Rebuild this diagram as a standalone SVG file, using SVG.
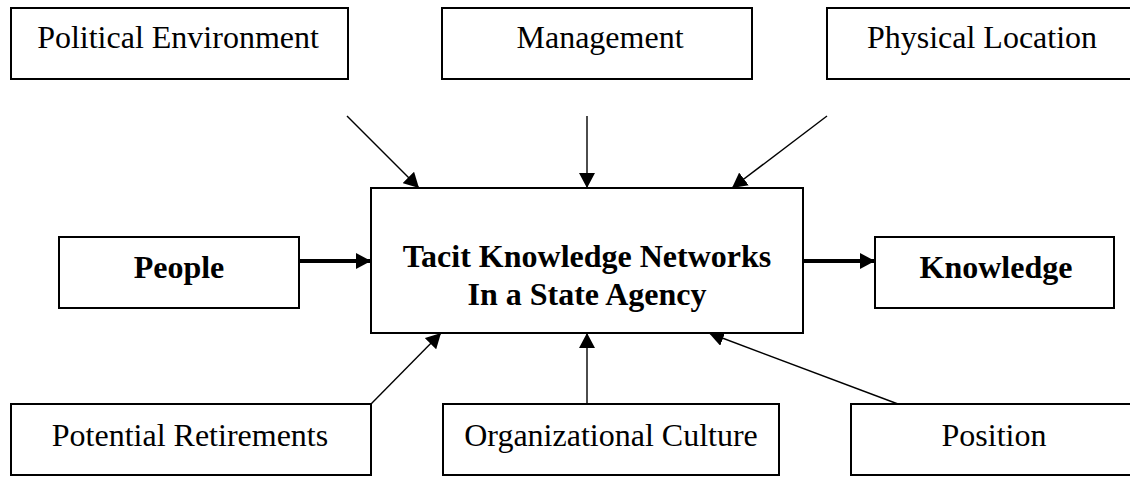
<svg xmlns="http://www.w3.org/2000/svg" width="1130" height="477" viewBox="0 0 1130 477">
  <style>
    .box { fill: #ffffff; stroke: #000000; stroke-width: 2; }
    .lbl { font-family: "Liberation Serif", "Times New Roman", serif; font-size: 32px; fill: #000000; text-anchor: middle; }
    .bold { font-weight: bold; }
    .thin { stroke: #000000; stroke-width: 1.4; fill: none; marker-end: url(#head); }
    .thick { stroke: #000000; stroke-width: 4; fill: none; marker-end: url(#head); }
  </style>
  <defs>
    <marker id="head" markerUnits="userSpaceOnUse" markerWidth="15" markerHeight="16" refX="15" refY="8" orient="auto">
      <path d="M0,0 L15,8 L0,16 Z" fill="#000000"/>
    </marker>
  </defs>
  <rect width="1130" height="477" fill="#ffffff"/>

  <g id="connectors">
    <line class="thin" x1="347" y1="116" x2="419" y2="188"/>
    <line class="thin" x1="587" y1="116" x2="587" y2="188"/>
    <line class="thin" x1="827" y1="116" x2="732" y2="188"/>
    <line class="thick" x1="299" y1="261" x2="371" y2="261"/>
    <line class="thick" x1="803" y1="261" x2="875" y2="261"/>
    <line class="thin" x1="371" y1="404" x2="441" y2="333"/>
    <line class="thin" x1="587" y1="404" x2="587" y2="333"/>
    <line class="thin" x1="898" y1="404" x2="709" y2="333"/>
  </g>

  <g id="political-environment">
    <rect class="box" x="11" y="8" width="337" height="71"/>
    <text class="lbl" x="178" y="48">Political Environment</text>
  </g>
  <g id="management">
    <rect class="box" x="442" y="8" width="310" height="71"/>
    <text class="lbl" x="600" y="48">Management</text>
  </g>
  <g id="physical-location">
    <rect class="box" x="827" y="8" width="311" height="71"/>
    <text class="lbl" x="982" y="48">Physical Location</text>
  </g>

  <g id="tacit-knowledge-networks">
    <rect class="box" x="371" y="188" width="432" height="145"/>
    <text class="lbl bold" x="587" y="267">Tacit Knowledge Networks</text>
    <text class="lbl bold" x="587" y="305">In a State Agency</text>
  </g>

  <g id="people">
    <rect class="box" x="59" y="237" width="240" height="71"/>
    <text class="lbl bold" x="179" y="278">People</text>
  </g>
  <g id="knowledge">
    <rect class="box" x="875" y="237" width="239" height="71"/>
    <text class="lbl bold" x="996" y="278">Knowledge</text>
  </g>

  <g id="potential-retirements">
    <rect class="box" x="11" y="404" width="360" height="71"/>
    <text class="lbl" x="190" y="446">Potential Retirements</text>
  </g>
  <g id="organizational-culture">
    <rect class="box" x="443" y="404" width="336" height="71"/>
    <text class="lbl" x="611" y="446">Organizational Culture</text>
  </g>
  <g id="position">
    <rect class="box" x="851" y="404" width="287" height="71"/>
    <text class="lbl" x="994" y="446">Position</text>
  </g>
</svg>
